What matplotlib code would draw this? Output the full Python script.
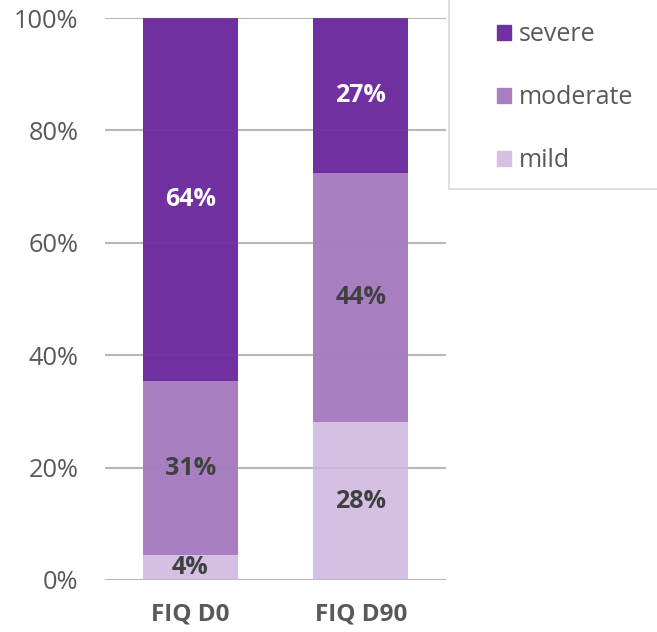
import numpy as np
import matplotlib.pyplot as plt
from matplotlib.patches import Patch, Rectangle

plt.rcParams['font.family'] = ['Open Sans', 'DejaVu Sans']

# data
categories = ["FIQ D0", "FIQ D90"]
mild = [4.4, 28.1]
moderate = [31.0, 44.4]
severe = [64.6, 27.5]
mild_labels = ["4%", "28%"]
moderate_labels = ["31%", "44%"]
severe_labels = ["64%", "27%"]

c_mild = "#D5BFE3"
c_mod = "#A880C2"
c_sev = "#7030A0"

fig = plt.figure(figsize=(6.57, 6.32), dpi=100)
ax = fig.add_axes([0.160, 0.0823, 0.519, 0.8892])

x = np.arange(len(categories))
w = 0.557
m = np.array(mild)
mo = np.array(moderate)
s = np.array(severe)

ax.bar(x, m, w, color=c_mild, zorder=2, label="mild")
ax.bar(x, mo, w, bottom=m, color=c_mod, zorder=2, label="moderate")
ax.bar(x, s, w, bottom=m + mo, color=c_sev, zorder=2, label="severe")

lab_kw = dict(ha="center", va="center", fontsize=18, fontweight="bold", zorder=3)
for i in range(len(x)):
    ax.text(x[i], m[i] / 2, mild_labels[i], color="#404040", **lab_kw)
    ax.text(x[i], m[i] + mo[i] / 2, moderate_labels[i], color="#404040", **lab_kw)
    ax.text(x[i], m[i] + mo[i] + s[i] / 2, severe_labels[i], color="white", **lab_kw)

ax.set_xlim(-0.5, 1.5)
ax.set_ylim(0, 100)
ax.set_yticks(np.arange(0, 101, 20))
ax.set_yticklabels([f"{v}%" for v in range(0, 101, 20)])
ax.yaxis.grid(True, color="#BFBFBF", linewidth=1.5, zorder=0)
ax.set_axisbelow(True)
# faint grid showing through the bars
for v in range(0, 101, 20):
    ax.axhline(v, color="#808080", linewidth=1.5, alpha=0.12, zorder=2.5)
ax.set_xticks(x)
ax.set_xticklabels(categories, fontweight="bold")
for sp in ax.spines.values():
    sp.set_visible(False)
ax.tick_params(axis="y", length=0, labelsize=18.3, labelcolor="#595959", pad=19)
ax.tick_params(axis="x", length=0, labelsize=17.5, labelcolor="#595959", pad=16)

# legend frame, cut by the figure edge
fig.patches.append(Rectangle((449 / 657, 1 - 189 / 632), 0.5, 0.5,
                             transform=fig.transFigure, facecolor="white",
                             edgecolor="#D9D9D9", linewidth=1.2, zorder=5))
handles = [Patch(color=c_sev, label="severe"),
           Patch(color=c_mod, label="moderate"),
           Patch(color=c_mild, label="mild")]
leg = fig.legend(handles=handles, loc="upper left",
                 bbox_to_anchor=(497 / 657, 1 - 22 / 632),
                 fontsize=18, frameon=False,
                 labelspacing=1.52, handlelength=0.56, handleheight=0.56,
                 handletextpad=0.32, borderpad=0, borderaxespad=0)
leg.set_zorder(6)
for t in leg.get_texts():
    t.set_color("#595959")

fig.savefig("out.png", dpi=100)
